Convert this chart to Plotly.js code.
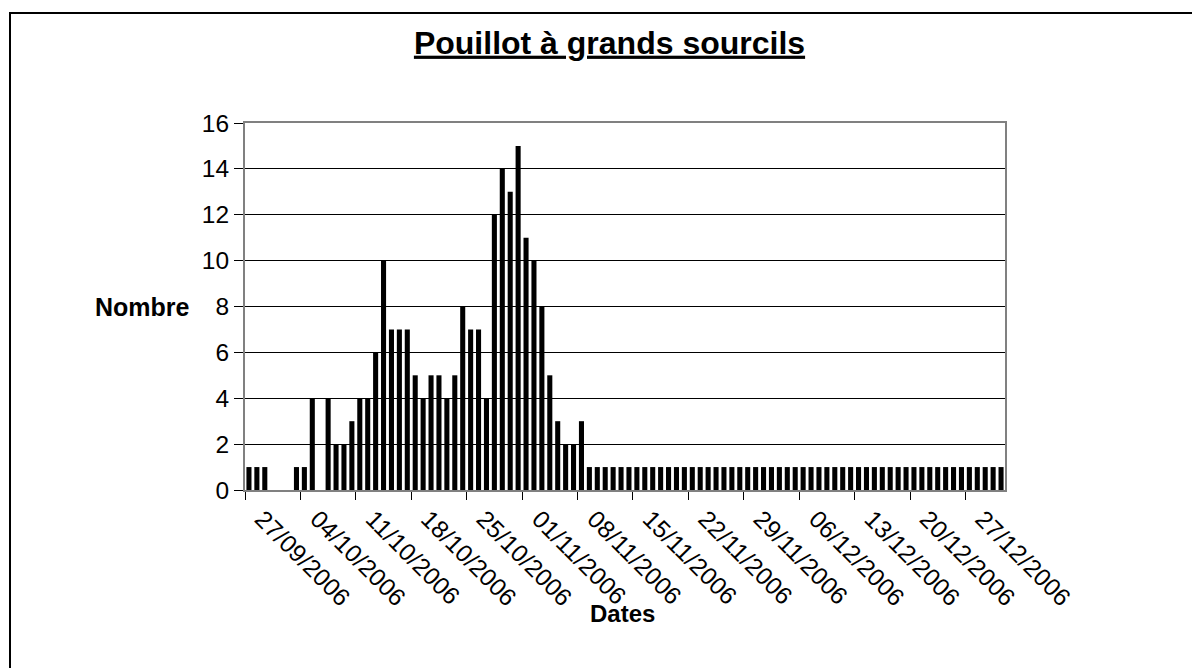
<!DOCTYPE html>
<html>
<head>
<meta charset="utf-8">
<script src="https://cdn.plot.ly/plotly-3.0.1.min.js"></script>
<style>
html,body{margin:0;padding:0;background:#fff;}
#chart{width:1192px;height:668px;}
</style>
</head>
<body>
<div id="chart"></div>
<script>
// Daily dates (27/09/2006 -> 31/12/2006)
var dates = [
  '2006-09-27','2006-09-28','2006-09-29','2006-09-30',
  '2006-10-01','2006-10-02','2006-10-03','2006-10-04','2006-10-05','2006-10-06','2006-10-07','2006-10-08','2006-10-09','2006-10-10',
  '2006-10-11','2006-10-12','2006-10-13','2006-10-14','2006-10-15','2006-10-16','2006-10-17','2006-10-18','2006-10-19','2006-10-20',
  '2006-10-21','2006-10-22','2006-10-23','2006-10-24','2006-10-25','2006-10-26','2006-10-27','2006-10-28','2006-10-29','2006-10-30','2006-10-31',
  '2006-11-01','2006-11-02','2006-11-03','2006-11-04','2006-11-05','2006-11-06','2006-11-07','2006-11-08','2006-11-09','2006-11-10',
  '2006-11-11','2006-11-12','2006-11-13','2006-11-14','2006-11-15','2006-11-16','2006-11-17','2006-11-18','2006-11-19','2006-11-20',
  '2006-11-21','2006-11-22','2006-11-23','2006-11-24','2006-11-25','2006-11-26','2006-11-27','2006-11-28','2006-11-29','2006-11-30',
  '2006-12-01','2006-12-02','2006-12-03','2006-12-04','2006-12-05','2006-12-06','2006-12-07','2006-12-08','2006-12-09','2006-12-10',
  '2006-12-11','2006-12-12','2006-12-13','2006-12-14','2006-12-15','2006-12-16','2006-12-17','2006-12-18','2006-12-19','2006-12-20',
  '2006-12-21','2006-12-22','2006-12-23','2006-12-24','2006-12-25','2006-12-26','2006-12-27','2006-12-28','2006-12-29','2006-12-30','2006-12-31'
];

// Number of birds per day
var nombre = [
  1,1,1,0,
  0,0,1,1,4,0,4,2,2,3,
  4,4,6,10,7,7,7,5,4,5,
  5,4,5,8,7,7,4,12,14,13,15,
  11,10,8,5,3,2,2,3,1,1,
  1,1,1,1,1,1,1,1,1,1,
  1,1,1,1,1,1,1,1,1,1,
  1,1,1,1,1,1,1,1,1,1,
  1,1,1,1,1,1,1,1,1,1,
  1,1,1,1,1,1,1,1,1,1,1
];

// Weekly tick labels
var tickLabels = ['27/09/2006','04/10/2006','11/10/2006','18/10/2006','25/10/2006','01/11/2006','08/11/2006',
  '15/11/2006','22/11/2006','29/11/2006','06/12/2006','13/12/2006','20/12/2006','27/12/2006'];
var tickDates = tickLabels.map(function(s){var p=s.split('/');return p[2]+'-'+p[1]+'-'+p[0];});

var FONT = 'Liberation Sans, Arial, sans-serif';

var trace = {
  type: 'bar',
  x: dates,
  y: nombre,
  marker: {color: '#000000', line: {width: 0}},
  hoverinfo: 'x+y'
};

var W = 760, H = 367, L = 245, T = 123;
function px(x){return (x - L) / W;}
function py(y){return (T + H - y) / H;}

var layout = {
  width: 1192,
  height: 668,
  margin: {l: L, r: 1192 - L - W, t: T, b: 668 - T - H, pad: 0},
  paper_bgcolor: '#ffffff',
  plot_bgcolor: '#ffffff',
  font: {family: FONT, size: 24, color: '#000'},
  showlegend: false,
  bargap: 0.36,
  title: {
    text: '<b><u>Pouillot à grands sourcils</u></b>',
    font: {family: FONT, size: 32, color: '#000'},
    xref: 'paper', x: px(609.5), xanchor: 'center',
    yref: 'container', y: 1 - 42.5 / 668, yanchor: 'middle'
  },
  xaxis: {
    type: 'date',
    range: ['2006-09-26 12:00', '2006-12-31 12:00'],
    tickmode: 'array',
    tickvals: tickDates,
    ticktext: tickLabels,
    tickangle: 45,
    ticks: '',
    ticklabelshift: 13,
    ticklabelstandoff: 3,
    tickfont: {family: FONT, size: 24.5, color: '#000'},
    showgrid: false,
    zeroline: false,
    showline: true,
    linecolor: '#808080',
    linewidth: 2,
    mirror: true,
    minor: {
      tick0: '2006-09-26 12:00',
      dtick: 604800000,
      ticks: 'outside',
      ticklen: 8,
      tickwidth: 1,
      tickcolor: '#000',
      showgrid: false
    },
    fixedrange: true
  },
  yaxis: {
    range: [0, 16],
    dtick: 2,
    tick0: 0,
    ticks: 'outside',
    ticklen: 9,
    tickwidth: 1,
    tickcolor: '#000',
    tickfont: {family: FONT, size: 24.5, color: '#000'},
    showgrid: true,
    gridcolor: '#000',
    gridwidth: 1,
    zeroline: false,
    showline: true,
    linecolor: '#808080',
    linewidth: 2,
    mirror: true,
    fixedrange: true
  },
  annotations: [
    {text: '<b>Nombre</b>', xref: 'paper', yref: 'paper', x: px(93), y: py(307),
     xanchor: 'left', yanchor: 'middle', showarrow: false,
     font: {family: FONT, size: 25, color: '#000'}},
    {text: '<b>Dates</b>', xref: 'paper', yref: 'paper', x: px(622), y: py(613),
     xanchor: 'center', yanchor: 'middle', showarrow: false,
     font: {family: FONT, size: 24, color: '#000'}}
  ],
  shapes: [
    {type: 'line', xref: 'paper', yref: 'paper', x0: px(10), x1: px(10), y0: py(12), y1: py(720),
     line: {color: '#000', width: 2}},
    {type: 'line', xref: 'paper', yref: 'paper', x0: px(9), x1: px(1240), y0: py(13), y1: py(13),
     line: {color: '#000', width: 2}}
  ]
};

Plotly.newPlot('chart', [trace], layout, {displayModeBar: false, staticPlot: true});
</script>
</body>
</html>
